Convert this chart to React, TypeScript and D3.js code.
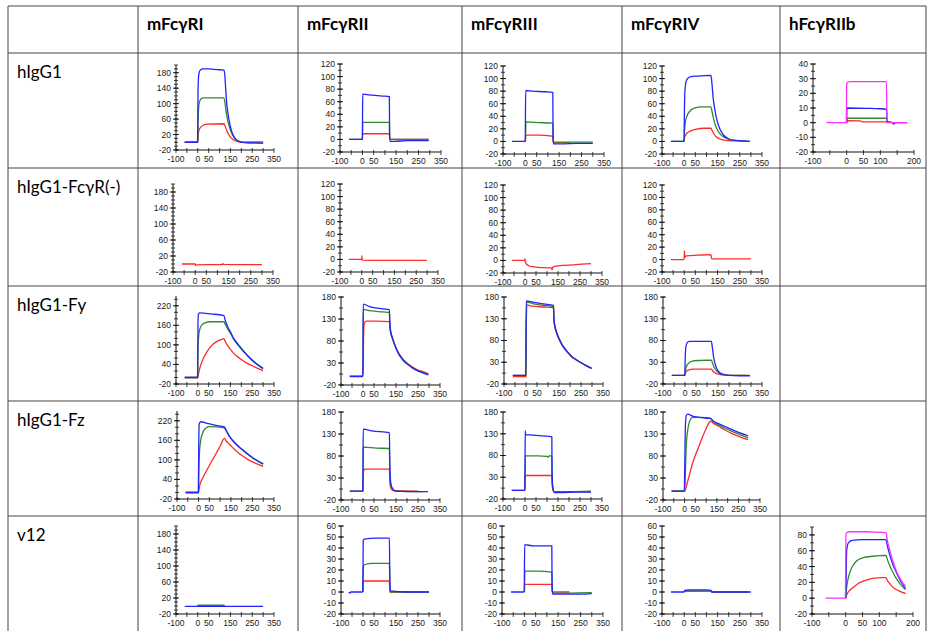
import React from "react";
import * as d3 from "d3";

type Pt = [number, number];

const ROWS = ["hIgG1", "hIgG1-FcγR(-)", "hIgG1-Fy", "hIgG1-Fz", "v12"];
const COLS = ["mFcγRI", "mFcγRII", "mFcγRIII", "mFcγRIV", "hFcγRIIb"];

const X_LABELS_M = [-100, 0, 50, 150, 250, 350];
const X_LABELS_H = [-100, 0, 50, 100, 200];
const Y_LABELS_200 = [-20, 20, 60, 100, 140, 180];
const Y_LABELS_120 = [-20, 0, 20, 40, 60, 80, 100, 120];
const Y_LABELS_250 = [-20, 40, 100, 160, 220];
const Y_LABELS_180 = [-20, 30, 80, 130, 180];
const Y_LABELS_60 = [-20, -10, 0, 10, 20, 30, 40, 50, 60];
const Y_LABELS_40 = [-20, -10, 0, 10, 20, 30, 40];
const Y_LABELS_90 = [-20, 0, 20, 40, 60, 80];

// ---- hIgG1 ----
const r1c1Red: Pt[] = [[-60,0],[0,0],[2,20],[5,30],[12,38],[25,44],[45,47],[120,48],[124,44],[132,32],[142,20],[152,12],[165,6],[180,2],[200,0],[230,1],[300,1]];
const r1c1Green: Pt[] = [[-60,0],[0,0],[1,40],[3,80],[6,100],[12,110],[20,114],[30,115],[120,115],[124,105],[130,80],[138,55],[148,35],[158,20],[168,11],[180,5],[195,1],[220,-1],[300,-2]];
const r1c1Blue: Pt[] = [[-60,0],[-1,0],[1,120],[3,165],[6,180],[12,187],[25,190],[50,190],[90,188],[120,187],[124,175],[128,140],[133,100],[140,70],[148,45],[158,25],[168,13],[180,5],[195,1],[220,-1],[300,-2]];

const r1c2Red: Pt[] = [[0,0],[1,9],[120,9],[121,2],[124,0],[295,0]];
const r1c2Green: Pt[] = [[-60,0],[0,0],[1,27],[120,27],[121,5],[124,0],[200,0],[295,0]];
const r1c2Blue: Pt[] = [[-60,0],[-1,0],[0,10],[1,72],[30,71],[90,69],[120,68],[121,10],[123,-3],[140,-3],[200,-2],[295,-2]];

const r1c3Red: Pt[] = [[0,0],[1,10],[60,10],[110,9],[122,8],[123,0],[125,-2],[200,-2]];
const r1c3Green: Pt[] = [[0,0],[1,15],[2,31],[60,30],[122,29],[123,15],[125,-1],[200,-1],[300,-1]];
const r1c3Blue: Pt[] = [[-60,0],[-1,0],[1,81],[30,80],[90,79],[122,78],[123,10],[125,-4],[160,-4],[230,-3],[300,-3]];

const r1c4Red: Pt[] = [[0,0],[1,5],[5,9],[12,13],[25,16],[50,19],[90,21],[120,21],[126,17],[135,11],[145,7],[160,4],[180,2],[210,1],[260,1],[280,1]];
const r1c4Green: Pt[] = [[-60,0],[0,0],[1,15],[5,30],[12,40],[25,48],[45,53],[80,55],[120,55],[125,48],[132,36],[142,24],[155,15],[170,9],[190,5],[215,2],[250,1],[296,0]];
const r1c4Blue: Pt[] = [[-60,0],[-1,0],[1,50],[3,80],[8,95],[15,100],[30,103],[60,104],[120,105],[124,95],[130,70],[138,50],[148,33],[160,20],[175,11],[195,5],[220,2],[260,1],[296,0]];

const r1c5Red: Pt[] = [[0,0],[1,1.3],[40,1.2],[45,0.6],[118,0.5],[120,0]];
const r1c5Green: Pt[] = [[0,0],[1,3],[118,3],[120,0]];
const r1c5Blue: Pt[] = [[0,0],[1,10],[60,9.8],[100,9.5],[118,9],[119,6],[120,1],[135,0],[140,-1],[145,0],[180,0]];
const r1c5Magenta: Pt[] = [[-60,0],[-1,0],[0,27],[10,28],[118,28],[120,0],[180,0]];

// ---- hIgG1-FcγR(-) ----
const r2c1Red: Pt[] = [[-60,0],[0,0],[1,-4],[4,-2],[60,-1.5],[122,-1.5],[124,1.5],[127,-1],[200,-1.5],[300,-1.5]];
const r2c2Red: Pt[] = [[-60,0],[0,0],[0.5,6],[1.5,-1],[100,-1.5],[200,-1.5],[298,-1.5]];
const r2c3Red: Pt[] = [[-60,0],[-1,0],[0,3],[1,-2],[5,-5],[15,-8],[30,-10],[60,-11],[120,-12],[123,-15],[126,-11],[140,-9],[170,-8],[220,-7],[260,-6],[300,-5]];
const r2c4Red: Pt[] = [[-60,0],[-1,0],[0,3],[1,14],[2,3],[5,5],[10,6],[60,7],[120,8],[122,4],[124,1],[200,1],[300,1]];

// ---- hIgG1-Fy ----
const r3c1Red: Pt[] = [[-60,0],[0,0],[3,10],[10,30],[25,58],[45,82],[70,102],[95,113],[115,118],[120,119],[125,112],[135,100],[150,86],[165,74],[180,65],[200,55],[225,44],[250,36],[275,28],[300,21]];
const r3c1Green: Pt[] = [[-60,0],[0,0],[1,80],[4,125],[10,150],[20,162],[35,168],[60,171],[120,171],[124,166],[130,158],[140,146],[150,136],[165,117],[180,103],[195,91],[215,76],[240,58],[270,41],[300,27]];
const r3c1Blue: Pt[] = [[-60,0],[-1,0],[1,170],[3,195],[10,198],[60,195],[120,190],[124,180],[130,168],[140,152],[150,140],[165,120],[180,106],[195,94],[215,78],[240,60],[270,42],[300,28]];

const r3c2Red: Pt[] = [[-60,0],[0,0],[1,30],[3,100],[6,120],[15,125],[60,125],[120,124],[122,110],[126,98],[132,88],[140,77],[150,64],[165,50],[180,40],[200,30],[225,21],[250,14],[275,10],[297,6]];
const r3c2Green: Pt[] = [[-60,0],[0,0],[1,152],[30,149],[90,146],[120,145],[122,118],[126,100],[132,89],[140,77],[150,63],[165,48],[180,38],[200,28],[225,19],[250,12],[275,8],[297,4]];
const r3c2Blue: Pt[] = [[-60,-1],[-1,-1],[0,40],[1,164],[30,158],[90,153],[120,151],[122,120],[126,102],[132,90],[140,78],[150,64],[165,49],[180,38],[200,28],[225,19],[250,12],[275,7],[297,3]];

const r3c3Red: Pt[] = [[-60,-3],[0,-3],[1,80],[3,162],[30,159],[80,157],[125,155],[127,125],[133,107],[140,95],[150,83],[165,68],[185,55],[205,44],[230,35],[260,26],[298,16]];
const r3c3Green: Pt[] = [[-60,0],[0,0],[1,100],[3,168],[30,165],[80,161],[125,158],[127,128],[133,109],[140,97],[150,84],[165,69],[185,55],[205,44],[230,35],[260,26],[298,16]];
const r3c3Blue: Pt[] = [[-60,0],[-1,0],[1,171],[30,168],[80,164],[125,161],[127,130],[133,110],[140,98],[150,85],[165,70],[185,56],[205,45],[230,35],[260,26],[298,16]];

const r3c4Red: Pt[] = [[0,0],[2,5],[6,9],[15,12],[40,14],[120,14],[126,10],[135,6],[148,3],[165,1],[200,0],[280,0]];
const r3c4Green: Pt[] = [[-60,0],[0,0],[2,10],[6,20],[15,27],[30,32],[60,34],[120,35],[125,28],[133,18],[143,10],[155,5],[170,2],[200,0],[295,0]];
const r3c4Blue: Pt[] = [[-60,0],[-1,0],[1,40],[4,65],[10,75],[20,78],[120,78],[124,65],[130,42],[138,24],[148,12],[160,5],[175,2],[200,0],[250,-1],[295,-1]];

// ---- hIgG1-Fz ----
const r4c1Red: Pt[] = [[-60,0],[0,0],[3,12],[6,23],[20,45],[40,70],[60,95],[80,118],[100,142],[120,166],[128,158],[140,150],[155,140],[175,127],[200,114],[230,101],[260,91],[300,80]];
const r4c1Green: Pt[] = [[-60,0],[0,0],[1,50],[4,120],[10,160],[20,184],[35,198],[50,202],[120,198],[125,193],[135,181],[148,167],[165,154],[185,141],[206,129],[230,116],[255,104],[280,94],[300,87]];
const r4c1Blue: Pt[] = [[-60,0],[-1,0],[1,150],[3,210],[10,217],[40,212],[80,206],[120,201],[125,195],[135,182],[148,168],[165,155],[185,142],[206,130],[230,117],[255,105],[280,95],[300,88]];

const r4c2Red: Pt[] = [[0,0],[1,38],[4,48],[10,50],[120,50],[122,20],[125,10],[132,3],[140,1],[250,0]];
const r4c2Green: Pt[] = [[-60,0],[0,0],[1,95],[3,100],[60,98],[120,97],[122,40],[125,18],[130,8],[140,2],[150,0],[270,-1]];
const r4c2Blue: Pt[] = [[-60,0],[-1,0],[0,40],[1,141],[40,137],[120,133],[122,60],[125,25],[130,10],[140,3],[150,0],[200,-1],[295,-1]];

const r4c3Red: Pt[] = [[0,0],[1,32],[3,34],[122,34],[123,15],[127,0],[133,-3],[200,-3],[300,-3]];
const r4c3Green: Pt[] = [[-60,0],[0,0],[1,79],[60,79],[100,78],[105,76],[110,79],[122,79],[123,30],[127,5],[133,-3],[200,-3],[300,-2]];
const r4c3Blue: Pt[] = [[-60,0],[-1,0],[0,40],[1,137],[3,128],[40,127],[80,125],[122,123],[123,40],[127,5],[133,-5],[160,-5],[230,-4],[300,-4]];

const r4c4Red: Pt[] = [[-60,0],[0,0],[5,5],[12,18],[22,36],[35,60],[53,85],[70,106],[83,123],[100,142],[121,159],[135,154],[160,147],[188,139],[220,131],[260,123],[295,117]];
const r4c4Green: Pt[] = [[-60,0],[0,0],[3,30],[8,104],[15,140],[22,157],[30,165],[40,168],[80,168],[120,166],[135,157],[160,150],[188,143],[220,136],[260,128],[295,121]];
const r4c4Blue: Pt[] = [[-60,0],[-1,0],[1,60],[4,150],[8,172],[15,175],[40,170],[80,167],[120,165],[135,159],[160,153],[188,147],[220,140],[260,132],[295,126]];

// ---- v12 ----
const r5c1Red: Pt[] = [[0,0],[2,1],[120,1],[122,0]];
const r5c1Green: Pt[] = [[0,0],[2,2],[120,2],[122,0]];
const r5c1Blue: Pt[] = [[-60,-1],[0,-1],[120,-1],[300,-1]];

const r5c2Red: Pt[] = [[0,0],[1,9],[5,10],[120,10],[122,0],[280,0]];
const r5c2Green: Pt[] = [[0,0],[1,20],[3,24],[10,25],[40,26],[120,26],[121,20],[123,0],[300,0]];
const r5c2Blue: Pt[] = [[-65,0],[-60,-1],[-55,0],[-1,0],[0,20],[1,47],[5,48],[60,49],[120,49],[122,10],[124,1],[200,0],[300,0]];

const r5c3Red: Pt[] = [[0,0],[1,7],[122,7],[123,0],[200,0]];
const r5c3Green: Pt[] = [[0,0],[1,12],[2,19],[60,19],[122,18],[123,10],[125,-1],[300,-0.5]];
const r5c3Blue: Pt[] = [[-60,0],[-1,0],[1,43],[40,42],[80,42],[122,42],[123,10],[125,-2],[250,-2],[300,-1.5]];

const r5c4Red: Pt[] = [[0,0],[2,0.5],[120,0.8],[125,0],[290,0]];
const r5c4Green: Pt[] = [[0,0],[2,1],[120,1],[125,0],[280,0]];
const r5c4Blue: Pt[] = [[-60,0],[-1,0],[2,1.5],[20,2],[60,2],[100,2],[120,1.5],[125,0],[300,0]];

const r5c5Red: Pt[] = [[0,0],[3,4],[10,9],[20,13],[35,18],[55,22],[80,25],[110,26],[120,26],[123,23],[130,19],[140,14],[150,11],[160,9],[170,7],[178,6]];
const r5c5Green: Pt[] = [[0,0],[2,10],[6,22],[12,32],[20,40],[30,46],[50,51],[80,53],[120,54],[123,50],[130,42],[140,33],[150,25],[160,19],[170,14],[178,11]];
const r5c5Blue: Pt[] = [[0,0],[1,15],[3,60],[8,70],[20,73],[50,74],[120,74],[123,68],[130,56],[140,43],[150,33],[160,24],[170,17],[178,12]];
const r5c5Magenta: Pt[] = [[-60,0],[-1,0],[1,82],[10,84],[60,84],[118,83],[120,83],[123,75],[130,62],[140,47],[150,35],[160,26],[170,19],[178,15]];

// ---- styles / layout ----
const COLORS: Record<string, string> = {
  red: "#ff2a2a",
  green: "#2f8a2f",
  blue: "#2323ff",
  magenta: "#ff2cff",
};

const COL_X = [8, 138, 298, 462, 622, 780, 926];
const ROW_Y = [6, 53, 168, 286, 401, 516, 640];

type Panel = {
  row: number;
  col: number;
  box: [number, number, number, number]; // left, right, top, bottom
  xDom: [number, number];
  xLabels: number[];
  yMax: number;
  yLabels: number[];
  yMinor: number;
  series: [string, Pt[]][];
};

const M: [number, number] = [-100, 350];
const H: [number, number] = [-100, 200];

const PANELS: Panel[] = [
  { row: 0, col: 0, box: [176, 274, 65, 150], xDom: M, xLabels: X_LABELS_M, yMax: 200, yLabels: Y_LABELS_200, yMinor: 10, series: [["red", r1c1Red], ["green", r1c1Green], ["blue", r1c1Blue]] },
  { row: 0, col: 1, box: [340, 441, 64, 152], xDom: M, xLabels: X_LABELS_M, yMax: 120, yLabels: Y_LABELS_120, yMinor: 10, series: [["red", r1c2Red], ["green", r1c2Green], ["blue", r1c2Blue]] },
  { row: 0, col: 2, box: [503, 604, 66, 154], xDom: M, xLabels: X_LABELS_M, yMax: 120, yLabels: Y_LABELS_120, yMinor: 10, series: [["red", r1c3Red], ["green", r1c3Green], ["blue", r1c3Blue]] },
  { row: 0, col: 3, box: [662, 762, 66, 154], xDom: M, xLabels: X_LABELS_M, yMax: 120, yLabels: Y_LABELS_120, yMinor: 10, series: [["red", r1c4Red], ["green", r1c4Green], ["blue", r1c4Blue]] },
  { row: 0, col: 4, box: [813, 914, 64, 152], xDom: H, xLabels: X_LABELS_H, yMax: 40, yLabels: Y_LABELS_40, yMinor: 5, series: [["red", r1c5Red], ["green", r1c5Green], ["blue", r1c5Blue], ["magenta", r1c5Magenta]] },

  { row: 1, col: 0, box: [173, 273, 184, 272], xDom: M, xLabels: X_LABELS_M, yMax: 200, yLabels: Y_LABELS_200, yMinor: 10, series: [["red", r2c1Red]] },
  { row: 1, col: 1, box: [340, 438, 184, 272], xDom: M, xLabels: X_LABELS_M, yMax: 120, yLabels: Y_LABELS_120, yMinor: 10, series: [["red", r2c2Red]] },
  { row: 1, col: 2, box: [503, 602, 185, 273], xDom: M, xLabels: X_LABELS_M, yMax: 120, yLabels: Y_LABELS_120, yMinor: 10, series: [["red", r2c3Red]] },
  { row: 1, col: 3, box: [662, 762, 185, 272], xDom: M, xLabels: X_LABELS_M, yMax: 120, yLabels: Y_LABELS_120, yMinor: 10, series: [["red", r2c4Red]] },

  { row: 2, col: 0, box: [176, 274, 296, 384], xDom: M, xLabels: X_LABELS_M, yMax: 250, yLabels: Y_LABELS_250, yMinor: 20, series: [["red", r3c1Red], ["green", r3c1Green], ["blue", r3c1Blue]] },
  { row: 2, col: 1, box: [341, 440, 297, 385], xDom: M, xLabels: X_LABELS_M, yMax: 180, yLabels: Y_LABELS_180, yMinor: 25, series: [["red", r3c2Red], ["green", r3c2Green], ["blue", r3c2Blue]] },
  { row: 2, col: 2, box: [504, 603, 297, 384], xDom: M, xLabels: X_LABELS_M, yMax: 180, yLabels: Y_LABELS_180, yMinor: 25, series: [["red", r3c3Red], ["green", r3c3Green], ["blue", r3c3Blue]] },
  { row: 2, col: 3, box: [663, 762, 297, 384], xDom: M, xLabels: X_LABELS_M, yMax: 180, yLabels: Y_LABELS_180, yMinor: 25, series: [["red", r3c4Red], ["green", r3c4Green], ["blue", r3c4Blue]] },

  { row: 3, col: 0, box: [177, 274, 411, 499], xDom: M, xLabels: X_LABELS_M, yMax: 250, yLabels: Y_LABELS_250, yMinor: 20, series: [["red", r4c1Red], ["green", r4c1Green], ["blue", r4c1Blue]] },
  { row: 3, col: 1, box: [341, 440, 412, 500], xDom: M, xLabels: X_LABELS_M, yMax: 180, yLabels: Y_LABELS_180, yMinor: 25, series: [["red", r4c2Red], ["green", r4c2Green], ["blue", r4c2Blue]] },
  { row: 3, col: 2, box: [503, 602, 412, 499], xDom: M, xLabels: X_LABELS_M, yMax: 180, yLabels: Y_LABELS_180, yMinor: 25, series: [["red", r4c3Red], ["green", r4c3Green], ["blue", r4c3Blue]] },
  { row: 3, col: 3, box: [663, 760, 412, 500], xDom: M, xLabels: X_LABELS_M, yMax: 180, yLabels: Y_LABELS_180, yMinor: 25, series: [["red", r4c4Red], ["green", r4c4Green], ["blue", r4c4Blue]] },

  { row: 4, col: 0, box: [176, 274, 526, 614], xDom: M, xLabels: X_LABELS_M, yMax: 200, yLabels: Y_LABELS_200, yMinor: 10, series: [["red", r5c1Red], ["green", r5c1Green], ["blue", r5c1Blue]] },
  { row: 4, col: 1, box: [341, 440, 526, 614], xDom: M, xLabels: X_LABELS_M, yMax: 60, yLabels: Y_LABELS_60, yMinor: 10, series: [["red", r5c2Red], ["green", r5c2Green], ["blue", r5c2Blue]] },
  { row: 4, col: 2, box: [502, 603, 526, 614], xDom: M, xLabels: X_LABELS_M, yMax: 60, yLabels: Y_LABELS_60, yMinor: 10, series: [["red", r5c3Red], ["green", r5c3Green], ["blue", r5c3Blue]] },
  { row: 4, col: 3, box: [662, 762, 526, 614], xDom: M, xLabels: X_LABELS_M, yMax: 60, yLabels: Y_LABELS_60, yMinor: 10, series: [["red", r5c4Red], ["green", r5c4Green], ["blue", r5c4Blue]] },
  { row: 4, col: 4, box: [812, 913, 527, 614], xDom: H, xLabels: X_LABELS_H, yMax: 90, yLabels: Y_LABELS_90, yMinor: 10, series: [["red", r5c5Red], ["green", r5c5Green], ["blue", r5c5Blue], ["magenta", r5c5Magenta]] },
];

const TICK_FONT = "'Liberation Sans', Arial, sans-serif";
const TABLE_FONT = "Lato, 'Open Sans', sans-serif";

function PanelView({ p }: { p: Panel }) {
  const [L, R, T, B] = p.box;
  const x = d3.scaleLinear().domain(p.xDom).range([L, R]);
  const y = d3.scaleLinear().domain([-20, p.yMax]).range([B, T]);
  const line = d3
    .line<Pt>()
    .x((d) => x(d[0]))
    .y((d) => y(d[1]))
    .curve(d3.curveMonotoneX);
  const minors = d3.range(-20, p.yMax + 0.001, p.yMinor);
  const xTicks = d3.range(p.xDom[0], p.xDom[1] + 0.001, 50);
  return (
    <g>
      {p.series.map(([c, pts], i) => (
        <path key={i} d={line(pts) || ""} fill="none" stroke={COLORS[c]} strokeWidth={1.3} strokeLinejoin="round" />
      ))}
      <line x1={L} x2={L} y1={y(p.yMax)} y2={B} stroke="#111" strokeWidth={1} />
      <line x1={L} x2={R} y1={B} y2={B} stroke="#111" strokeWidth={1} />
      {minors.map((v) => (
        <line key={"m" + v} x1={L - 2} x2={L + 2} y1={y(v)} y2={y(v)} stroke="#111" strokeWidth={0.8} />
      ))}
      {p.yLabels.map((v) => (
        <g key={"y" + v}>
          <line x1={L - 3} x2={L + 3} y1={y(v)} y2={y(v)} stroke="#111" strokeWidth={0.9} />
          <text x={L - 5} y={y(v)} dy="0.35em" textAnchor="end" fontSize={8.5} fontFamily={TICK_FONT} fill="#1a1a1a">
            {v}
          </text>
        </g>
      ))}
      {xTicks.map((v) => (
        <line key={"xt" + v} x1={x(v)} x2={x(v)} y1={B - 2} y2={B + 3} stroke="#111" strokeWidth={0.8} />
      ))}
      {p.xLabels.map((v) => (
        <text key={"x" + v} x={x(v)} y={B + 12} textAnchor="middle" fontSize={8.5} fontFamily={TICK_FONT} fill="#1a1a1a">
          {v}
        </text>
      ))}
    </g>
  );
}

export default function App() {
  return (
    <svg width={927} height={631} style={{ position: "absolute", left: 0, top: 0, background: "#fff" }}>
      <rect x={0} y={0} width={927} height={631} fill="#fff" />
      {COL_X.map((cx) => (
        <line key={"c" + cx} x1={cx} x2={cx} y1={ROW_Y[0]} y2={640} stroke="#444" strokeWidth={1} />
      ))}
      {ROW_Y.slice(0, 6).map((ry) => (
        <line key={"r" + ry} x1={COL_X[0]} x2={COL_X[6]} y1={ry} y2={ry} stroke="#444" strokeWidth={1} />
      ))}
      {COLS.map((c, i) => (
        <text key={c} x={COL_X[i + 1] + 9} y={30} fontSize={17} fontWeight="bold" fontFamily={TABLE_FONT} fill="#000">
          {c}
        </text>
      ))}
      {ROWS.map((r, i) => (
        <text key={r} x={17} y={ROW_Y[i + 1] + 25} fontSize={17} fontFamily={TABLE_FONT} fill="#000">
          {r}
        </text>
      ))}
      {PANELS.map((p, i) => (
        <PanelView key={i} p={p} />
      ))}
    </svg>
  );
}
